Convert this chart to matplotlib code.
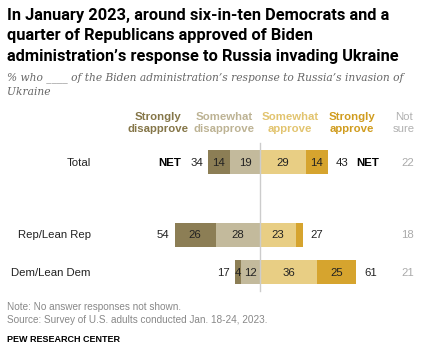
import numpy as np
import matplotlib.pyplot as plt

# survey results, percent
groups = ["Total", "Rep/Lean Rep", "Dem/Lean Dem"]
strongly_disapprove = [14, 26, 4]
somewhat_disapprove = [19, 28, 12]
somewhat_approve = [29, 23, 36]
strongly_approve = [14, 4, 25]
net_disapprove = [34, 54, 17]
net_approve = [43, 27, 61]
not_sure = [22, 18, 21]

headers = ["Strongly\ndisapprove", "Somewhat\ndisapprove", "Somewhat\napprove",
           "Strongly\napprove", "Not\nsure"]
colors = ["#8c7e55", "#c3ba9c", "#e8ce84", "#d6a42e"]
header_colors = ["#857648", "#bdb394", "#e2c46f", "#d09c1e", "#b0b0b0"]

W, H = 436, 349
fig = plt.figure(figsize=(W / 100, H / 100), dpi=100)
ax = fig.add_axes([0, 0, 1, 1])
ax.axis("off")

# x in percent units, y in pixels from the top
px = 1.58          # pixels per percentage point
x0 = 260           # pixel position of the zero line
ax.set_xlim(-x0 / px, (W - x0) / px)
ax.set_ylim(H, 0)

def u(xpix):
    return (xpix - x0) / px

row_y = [162, 235, 272]
bar_h = 24
show_label = [[True] * 4, [True, True, True, False], [True] * 4]

ax.plot([0, 0], [143, 291], color="#cccccc", lw=1, zorder=3)

txt = dict(fontsize=8.2, family="Liberation Sans", va="center")
for i, y in enumerate(row_y):
    sd, md = strongly_disapprove[i], somewhat_disapprove[i]
    ma, sa = somewhat_approve[i], strongly_approve[i]
    segs = [(-(sd + md), sd), (-md, md), (0, ma), (ma, sa)]
    vals = [sd, md, ma, sa]
    for k, (left, width) in enumerate(segs):
        ax.barh(y, width, left=left, height=bar_h, color=colors[k], lw=0, zorder=2)
        if show_label[i][k]:
            ax.text(left + width / 2, y + 0.5, str(vals[k]), ha="center", color="#222222", **txt)
    lend = -(sd + md)
    rend = ma + sa
    ax.text(lend - 5 / px, y + 0.5, str(net_disapprove[i]), ha="right", color="#222222", **txt)
    ax.text(rend + 8 / px, y + 0.5, str(net_approve[i]), ha="left", color="#222222", **txt)
    ax.text(u(414), y + 0.5, str(not_sure[i]), ha="right", color="#aaaaaa", **txt)
    ax.text(u(91), y + 0.5, groups[i], ha="right", color="#222222", **txt)
    if i == 0:
        ax.text(lend - 27 / px, y + 0.5, "NET", ha="right", color="#000000",
                fontweight="bold", **txt)
        ax.text(rend + 28 / px, y + 0.5, "NET", ha="left", color="#000000",
                fontweight="bold", **txt)

header_x = [158, 224, 290, 352, 404]
for h, hx, hc in zip(headers, header_x, header_colors):
    ax.text(u(hx), 123, h, ha="center", va="center", fontsize=8.2,
            family="Liberation Sans", fontweight="bold" if "Not" not in h else "normal",
            color=hc, linespacing=1.15)

title = ("In January 2023, around six-in-ten Democrats and a\n"
         "quarter of Republicans approved of Biden\n"
         "administration\u2019s response to Russia invading Ukraine")
fig.text(7 / W, 1 - 8 / H, title, ha="left", va="top", fontsize=11.8,
         family="Roboto", fontweight="bold", color="#000000", linespacing=1.45)
fig.text(7 / W, 1 - 72 / H,
         "% who ____ of the Biden administration\u2019s response to Russia\u2019s invasion of\nUkraine",
         ha="left", va="top", fontsize=7.7, family="DejaVu Serif", style="italic",
         color="#666666", linespacing=1.5)
fig.text(7 / W, 1 - 307 / H, "Note: No answer responses not shown.", ha="left", va="center",
         fontsize=7.2, family="Liberation Sans", color="#888888")
fig.text(7 / W, 1 - 320 / H, "Source: Survey of U.S. adults conducted Jan. 18-24, 2023.",
         ha="left", va="center", fontsize=7.2, family="Liberation Sans", color="#888888")
fig.text(7 / W, 1 - 340 / H, "PEW RESEARCH CENTER", ha="left", va="center",
         fontsize=6.5, family="Liberation Sans", fontweight="bold", color="#000000")

fig.savefig("out.png", dpi=100)
